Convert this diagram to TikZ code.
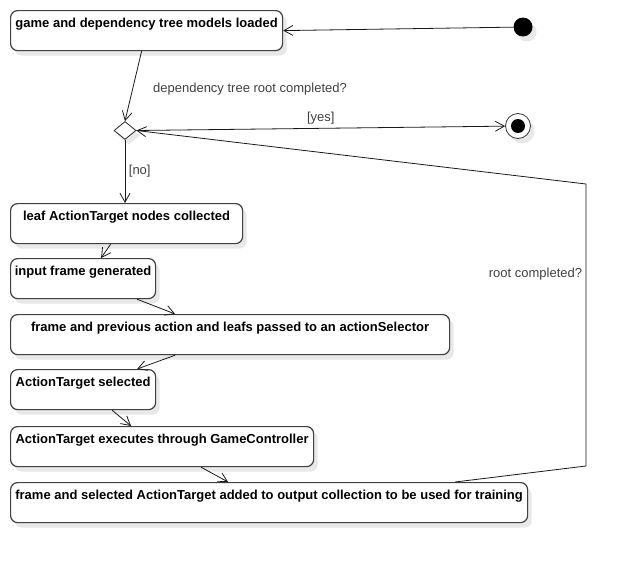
\documentclass[tikz,border=0pt]{standalone}
\usepackage{fontspec}
\setmainfont{Liberation Sans}
\usetikzlibrary{arrows.meta,shapes.geometric,shadows}

\begin{document}
\begin{tikzpicture}[x=1pt,y=-1pt,
	>={Straight Barb[length=9pt,width=10pt]},
	shade/.style={drop shadow={shadow xshift=4pt,shadow yshift=-5pt,fill=black!9,opacity=1}},
	act/.style={draw=black!75,line width=1.2pt,fill=white,rounded corners=7pt,anchor=north west,
		minimum height=40pt,inner xsep=4pt,inner ysep=3pt,text height=13.5pt,text depth=20.5pt,
		font=\fontsize{13}{15}\selectfont\bfseries,shade},
	startdot/.style={circle,fill=black,minimum size=19pt,inner sep=0pt,shade},
	enddot/.style={circle,draw=black!80,fill=white,line width=0.8pt,minimum size=25pt,inner sep=0pt,
		path picture={\fill[black] (path picture bounding box.center) circle (7pt);},shade},
	choice/.style={diamond,draw=black!85,fill=white,line width=0.8pt,minimum width=22pt,minimum height=18pt,inner sep=0pt,shade},
	lbl/.style={text=black!75,font=\fontsize{13}{15}\selectfont,inner sep=3.5pt},
	flow/.style={->,black!90,line width=0.8pt}]
	
	\def\wLoaded{272}
	\def\wLeaf{232}
	\def\wShort{145}
	\def\wPass{439}
	\def\wExec{303}
	\def\wOut{517}
	\useasboundingbox[fill=white] (0,0) rectangle (627,562);
	
	% states
	\node[act,minimum width=\wLoaded] (loaded) at (10,10) {game and dependency tree models loaded};
	\node[startdot] (start) at (523,27) {};
	\node[choice] (dec) at (125,130.5) {};
	\node[enddot] (final) at (518,126) {};
	\node[lbl] (q) at (250,89) {dependency tree root completed?};
	\node[act,minimum width=\wLeaf] (leaf) at (10,203) {leaf ActionTarget nodes collected};
	\node[act,minimum width=\wShort] (input) at (10,258) {input frame generated};
	\node[act,minimum width=\wPass] (pass) at (10,314) {frame and previous action and leafs passed to an actionSelector};
	\node[act,minimum width=\wShort] (sel) at (10,369) {ActionTarget selected};
	\node[act,minimum width=\wExec] (exec) at (10,426) {ActionTarget executes through GameController};
	\node[act,minimum width=\wOut] (out) at (10,482) {frame and selected ActionTarget added to output collection to be used for training};
	\coordinate (c1) at (586,466);
	\coordinate (c2) at (586,184);
	
	% transitions
	\draw[flow] (start) -- (loaded.east);
	\draw[flow] ([xshift=-5pt]loaded.south) -- (dec.north);
	\draw[flow] (dec.east) -- node[lbl,above] {[yes]} (final);
	\draw[flow] (dec.south) -- node[lbl,right] {[no]} (dec.south |- leaf.north);
	\draw[flow] ([xshift=-16pt]leaf.south) -- ([xshift=18pt]input.north);
	\draw[flow] ([xshift=54pt]input.south) -- ([xshift=-55pt]pass.north);
	\draw[flow] ([xshift=-55pt]pass.south) -- ([xshift=54pt]sel.north);
	\draw[flow] ([xshift=29pt]sel.south) -- ([xshift=-31pt]exec.north);
	\draw[flow] ([xshift=39pt]exec.south) -- ([xshift=-41pt]out.north);
	\draw[flow] ([xshift=186pt]out.north) -- (c1) -- node[lbl,pos=0.68,left] {root completed?} (c2) -- (dec.east);
	
\end{tikzpicture}
\end{document}
